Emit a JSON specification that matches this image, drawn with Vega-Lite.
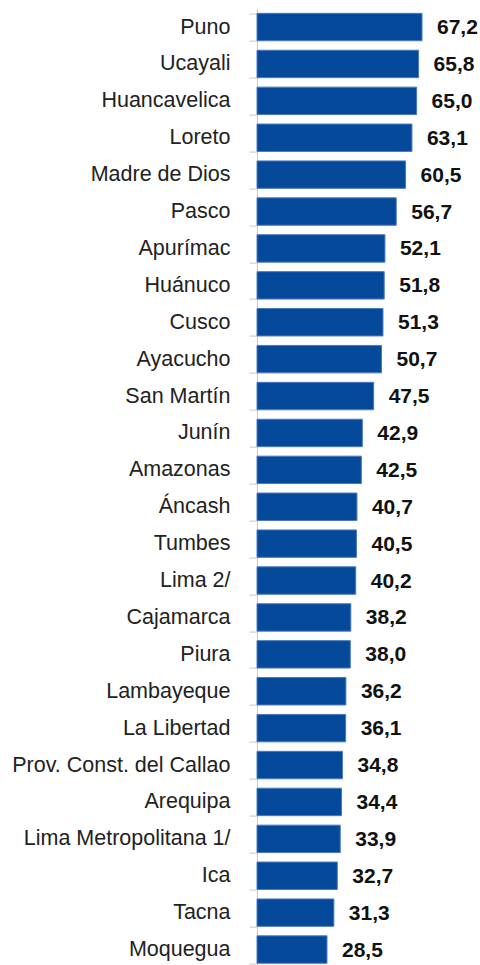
{
  "$schema": "https://vega.github.io/schema/vega-lite/v6.json",
  "autosize": {"type": "none"},
  "padding": {"left": 257, "top": 8.6, "right": 2, "bottom": 0},
  "width": 221,
  "height": 959.4,
  "background": "#ffffff",
  "config": {
    "view": {"stroke": null},
    "locale": {"number": {"decimal": ",", "thousands": ".", "grouping": [3], "currency": ["", ""]}}
  },
  "data": {
    "values": [
      {"region": "Puno", "value": 67.2},
      {"region": "Ucayali", "value": 65.8},
      {"region": "Huancavelica", "value": 65.0},
      {"region": "Loreto", "value": 63.1},
      {"region": "Madre de Dios", "value": 60.5},
      {"region": "Pasco", "value": 56.7},
      {"region": "Apurímac", "value": 52.1},
      {"region": "Huánuco", "value": 51.8},
      {"region": "Cusco", "value": 51.3},
      {"region": "Ayacucho", "value": 50.7},
      {"region": "San Martín", "value": 47.5},
      {"region": "Junín", "value": 42.9},
      {"region": "Amazonas", "value": 42.5},
      {"region": "Áncash", "value": 40.7},
      {"region": "Tumbes", "value": 40.5},
      {"region": "Lima 2/", "value": 40.2},
      {"region": "Cajamarca", "value": 38.2},
      {"region": "Piura", "value": 38.0},
      {"region": "Lambayeque", "value": 36.2},
      {"region": "La Libertad", "value": 36.1},
      {"region": "Prov. Const. del Callao", "value": 34.8},
      {"region": "Arequipa", "value": 34.4},
      {"region": "Lima Metropolitana 1/", "value": 33.9},
      {"region": "Ica", "value": 32.7},
      {"region": "Tacna", "value": 31.3},
      {"region": "Moquegua", "value": 28.5}
    ]
  },
  "encoding": {
    "y": {
      "field": "region",
      "type": "nominal",
      "sort": null,
      "scale": {"paddingInner": 0.257, "paddingOuter": 0.1285},
      "axis": {
        "title": null,
        "domainColor": "#c8c8c8",
        "domainWidth": 1,
        "tickColor": "#c8c8c8",
        "tickSize": 8,
        "tickBand": "extent",
        "labelFont": "Liberation Sans",
        "labelFontSize": 21.5,
        "labelColor": "#222222",
        "labelPadding": 19,
        "labelLimit": 300
      }
    },
    "x": {
      "field": "value",
      "type": "quantitative",
      "scale": {"domain": [0, 90], "nice": false},
      "axis": null
    }
  },
  "layer": [
    {
      "mark": {"type": "bar", "color": "#054a9a", "stroke": "#4a78c0", "strokeWidth": 1}
    },
    {
      "mark": {"type": "text", "align": "left", "baseline": "middle", "dx": 15, "dy": 1, "font": "Liberation Sans", "fontWeight": "bold", "fontSize": 21, "color": "#111111"},
      "encoding": {"text": {"field": "value", "type": "quantitative", "format": ".1f"}}
    }
  ]
}
